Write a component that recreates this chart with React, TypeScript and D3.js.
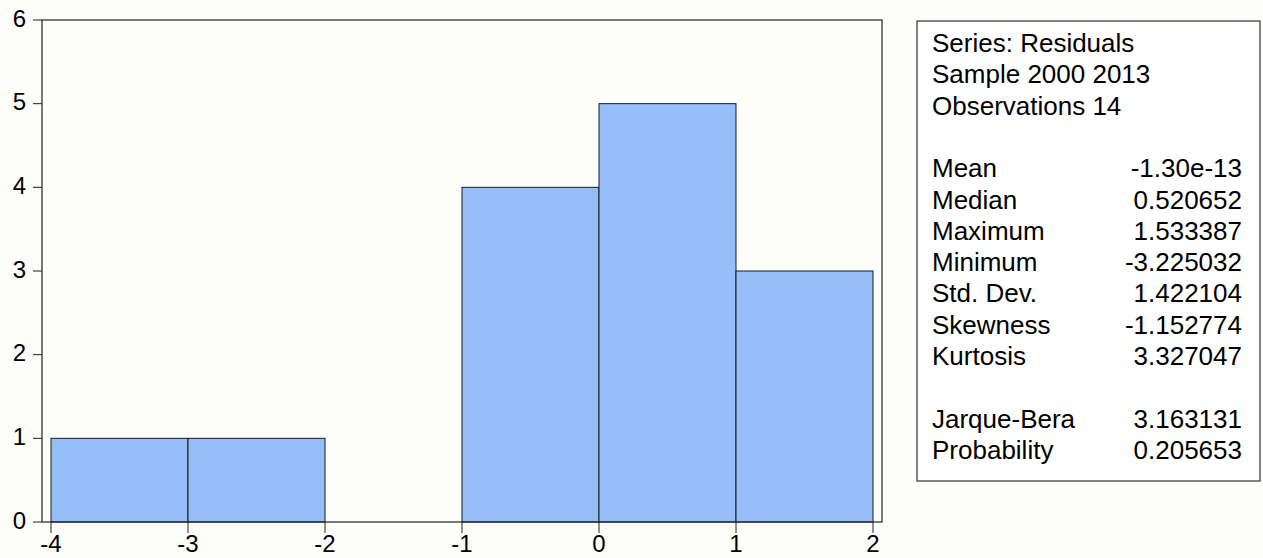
import React from "react";
import * as d3 from "d3";

const binStarts = [-4, -3, -2, -1, 0, 1];
const binCounts = [1, 1, 0, 4, 5, 3];
const binWidth = 1;
const xTicks = [-4, -3, -2, -1, 0, 1, 2];
const yTicks = [0, 1, 2, 3, 4, 5, 6];
const statHeader = ["Series: Residuals", "Sample 2000 2013", "Observations 14"];
const statLabels = ["Mean", "Median", "Maximum", "Minimum", "Std. Dev.", "Skewness", "Kurtosis"];
const statValues = ["-1.30e-13", "0.520652", "1.533387", "-3.225032", "1.422104", "-1.152774", "3.327047"];
const testLabels = ["Jarque-Bera", "Probability"];
const testValues = ["3.163131", "0.205653"];

export default function App() {
  const W = 1263, H = 558;
  const frameL = 42, frameR = 882, frameT = 20, frameB = 522;
  const x = d3.scaleLinear().domain([-4, 2]).range([51, 873]);
  const y = d3.scaleLinear().domain([0, 6]).range([frameB, frameT]);
  const font = "'Liberation Sans', Arial, sans-serif";
  const tickFs = 24;
  const boxFs = 26;

  const boxX = 917, boxY = 21, boxW = 343, boxH = 460;
  const lineH = 31.3;
  const base0 = 52;
  const labelX = 932, valueX = 1242;

  const lines: { label: string; value?: string; idx: number }[] = [];
  statHeader.forEach((t, i) => lines.push({ label: t, idx: i }));
  statLabels.forEach((t, i) => lines.push({ label: t, value: statValues[i], idx: 4 + i }));
  testLabels.forEach((t, i) => lines.push({ label: t, value: testValues[i], idx: 12 + i }));

  return (
    <svg width={W} height={H} style={{ position: "absolute", left: 0, top: 0, background: "#fff" }} fontFamily={font}>
      <rect x={0} y={0} width={W} height={H} fill="#fdfdfa" />
      {/* bars */}
      {binStarts.map((s, i) =>
        binCounts[i] > 0 ? (
          <rect
            key={i}
            x={x(s)}
            y={y(binCounts[i])}
            width={x(s + binWidth) - x(s)}
            height={y(0) - y(binCounts[i])}
            fill="#96BEF8"
            stroke="#1a1a1a"
            strokeWidth={1}
          />
        ) : null
      )}
      {/* frame */}
      <rect x={frameL} y={frameT} width={frameR - frameL} height={frameB - frameT} fill="none" stroke="#222" strokeWidth={1.2} />
      {/* y ticks */}
      {yTicks.map((t) => (
        <g key={"y" + t}>
          <line x1={33} x2={frameL} y1={y(t)} y2={y(t)} stroke="#222" strokeWidth={1} />
          <text x={26} y={y(t) - 2} dy="0.36em" textAnchor="end" fontSize={tickFs} fill="#000">
            {t}
          </text>
        </g>
      ))}
      {/* x ticks */}
      {xTicks.map((t) => (
        <g key={"x" + t}>
          <line x1={x(t)} x2={x(t)} y1={frameB} y2={frameB + 11} stroke="#222" strokeWidth={1} />
          <text x={x(t)} y={552} textAnchor="middle" fontSize={tickFs} fill="#000">
            {t}
          </text>
        </g>
      ))}
      {/* stats box */}
      <rect x={boxX} y={boxY} width={boxW} height={boxH} fill="#fff" stroke="#333" strokeWidth={1.2} />
      {lines.map((l) => (
        <g key={l.label}>
          <text x={labelX} y={base0 + l.idx * lineH} fontSize={boxFs} fill="#000">
            {l.label}
          </text>
          {l.value !== undefined && (
            <text x={valueX} y={base0 + l.idx * lineH} fontSize={boxFs} textAnchor="end" fill="#000">
              {l.value}
            </text>
          )}
        </g>
      ))}
    </svg>
  );
}
